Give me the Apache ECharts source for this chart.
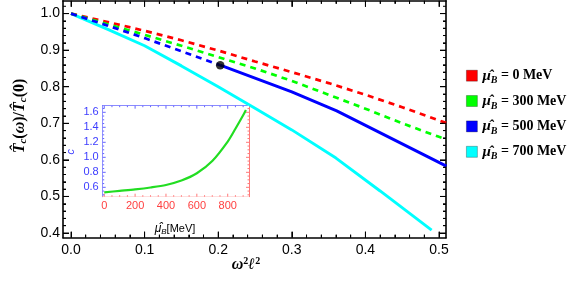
<!DOCTYPE html>
<html><head><meta charset="utf-8">
<script src="https://cdn.jsdelivr.net/npm/echarts@6/dist/echarts.min.js"></script>
<style>html,body{margin:0;padding:0;background:#fff}#c{width:581px;height:286px}</style>
</head><body><div id="c"></div>
<script>
// ---- data ----
const omegaX   = [0, 0.05, 0.1, 0.15, 0.2, 0.25, 0.3, 0.35, 0.4, 0.45, 0.5, 0.51];
const tcMu0    = [1.000, 0.977, 0.953, 0.927, 0.899, 0.869, 0.840, 0.810, 0.778, 0.744, 0.708, 0.701];
const tcMu300  = [1.000, 0.971, 0.942, 0.912, 0.881, 0.850, 0.816, 0.778, 0.740, 0.700, 0.663, 0.656];
const mu500DashX   = [0, 0.05, 0.1, 0.15, 0.2027];
const tcMu500Dash  = [1.000, 0.967, 0.933, 0.897, 0.859];
const mu500SolidX  = [0.2027, 0.3, 0.361, 0.51];
const tcMu500Solid = [0.859, 0.786, 0.734, 0.583];
const mu700X   = [0, 0.05, 0.1, 0.15, 0.2, 0.25, 0.3, 0.36, 0.42, 0.49];
const tcMu700  = [1.000, 0.957, 0.912, 0.857, 0.800, 0.741, 0.682, 0.605, 0.515, 0.408];
const criticalPoint = [0.2027, 0.859];
const insetMu  = [0, 100, 200, 300, 400, 500, 600, 700, 800, 850, 900, 918];
const insetC   = [0.533, 0.553, 0.573, 0.598, 0.631, 0.690, 0.787, 0.950, 1.209, 1.380, 1.560, 1.631];
const xTicks = [0, 0.1, 0.2, 0.3, 0.4, 0.5];
const yTicks = [0.4, 0.5, 0.6, 0.7, 0.8, 0.9, 1.0];
const insetXTicks = [0, 200, 400, 600, 800];
const insetYTicks = [0.6, 0.8, 1.0, 1.2, 1.4, 1.6];
const legendValues = ['0', '300', '500', '700'];
const legendColors = ['#ff0000', '#00ff00', '#0000ff', '#00ffff'];

const zip = (xs, ys) => xs.map((x, i) => [x, ys[i]]);
function minorList(from, to, step, majors) {
  const out = [];
  for (let v = from; v <= to + 1e-9; v += step) {
    const r = Math.round(v * 1000) / 1000;
    if (!majors.some(m => Math.abs(m - r) < 1e-6)) out.push(r);
  }
  return out;
}
const xMinor = minorList(0, 0.5, 0.02, xTicks);
const yMinor = minorList(0.4, 1.02, 0.02, yTicks);
const insetXMinor = minorList(0, 900, 50, insetXTicks);
const insetYMinor = minorList(0.5, 1.65, 0.05, insetYTicks);

const XMIN = -0.0109, XMAX = 0.5095, YMIN = 0.3872, YMAX = 1.035;
const IXMIN = -10, IXMAX = 938, IYMIN = 0.475, IYMAX = 1.688;
const INBLUE = '#6464ff', INRED = '#ff7878';
const G = { left: 63, top: 0.8, width: 383, height: 236.9 };

function axis(grid, pos, min, max, ticks, lineColor, label) {
  return {
    type: 'value', gridIndex: grid, position: pos, min: min, max: max,
    axisLine: { show: true, onZero: false, lineStyle: { color: lineColor, width: grid === 0 ? 1.6 : 1 } },
    axisTick: { show: false },
    axisLabel: label ? Object.assign({ show: true, customValues: ticks }, label) : { show: false },
    splitLine: { show: false }
  };
}
// tick-only axes on helper grids whose extents start at a tick (so interval ticks line up)
function tickAxis(grid, pos, min, max, interval) {
  return {
    type: 'value', gridIndex: grid, position: pos, min: min, max: max, interval: interval,
    axisLine: { show: true, onZero: false, lineStyle: { color: 'rgba(0,0,0,0)' } },
    axisTick: { show: true, inside: true, length: 6, lineStyle: { color: '#000', width: 1 } },
    minorTick: { show: true, splitNumber: 5, length: 3, lineStyle: { color: '#000', width: 1 } },
    axisLabel: { show: false }, splitLine: { show: false }, minorSplitLine: { show: false }
  };
}
const hiddenAxis = grid => ({ type: 'value', gridIndex: grid, show: false, min: 0, max: 1, axisLine: { onZero: false } });
const mainLabel = { color: '#000', fontSize: 14, fontFamily: 'Liberation Sans, Arial', formatter: v => v.toFixed(1) };

const pxPerX = G.width / (XMAX - XMIN), pxPerY = G.height / (YMAX - YMIN);
const xTickGrid = { left: G.left + (xTicks[0] - XMIN) * pxPerX, width: (xTicks[xTicks.length - 1] - xTicks[0]) * pxPerX, top: G.top, height: G.height };
const yTickGrid = { left: G.left, width: G.width, top: G.top + (YMAX - yTicks[yTicks.length - 1]) * pxPerY, height: (yTicks[yTicks.length - 1] - yTicks[0]) * pxPerY };

const xAxes = [
  axis(0, 'bottom', XMIN, XMAX, xTicks, '#000', Object.assign({ margin: 5 }, mainLabel)),
  axis(0, 'top', XMIN, XMAX, xTicks, '#000', null),
  axis(1, 'bottom', IXMIN, IXMAX, insetXTicks, INRED, { margin: 4, color: '#ff4040', fontSize: 11, fontFamily: 'Liberation Sans, Arial', formatter: v => String(v) }),
  axis(1, 'top', IXMIN, IXMAX, insetXTicks, INBLUE, null),
  tickAxis(2, 'bottom', xTicks[0], xTicks[xTicks.length - 1], 0.1),
  tickAxis(2, 'top', xTicks[0], xTicks[xTicks.length - 1], 0.1),
  hiddenAxis(3)
];
const yAxes = [
  axis(0, 'left', YMIN, YMAX, yTicks, '#000', Object.assign({ margin: 3 }, mainLabel)),
  axis(0, 'right', YMIN, YMAX, yTicks, '#000', null),
  axis(1, 'left', IYMIN, IYMAX, insetYTicks, INBLUE, { margin: 4, color: '#3c3cff', fontSize: 11, fontFamily: 'Liberation Sans, Arial', formatter: v => v.toFixed(1) }),
  axis(1, 'right', IYMIN, IYMAX, insetYTicks, INRED, null),
  hiddenAxis(2),
  tickAxis(3, 'left', yTicks[0], yTicks[yTicks.length - 1], 0.1),
  tickAxis(3, 'right', yTicks[0], yTicks[yTicks.length - 1], 0.1)
];

// tick marks placed through the axes' own scales (api.coord), pointing into the frame.
function tickData(xMaj, xMin, yMaj, yMin, lenMaj, lenMin, xmid, ymid) {
  return [].concat(
    xMaj.map(v => [v, ymid, 0, lenMaj]), xMin.map(v => [v, ymid, 0, lenMin]),
    yMaj.map(v => [xmid, v, 1, lenMaj]), yMin.map(v => [xmid, v, 1, lenMin]));
}
function tickRenderer(xmin, xmax, ymin, ymax, colors) { // colors: bottom, top, left, right
  return function (params, api) {
    const side = api.value(2), len = api.value(3);
    let a, b, c1, c2, s1, s2;
    if (side === 0) {
      const v = api.value(0);
      a = api.coord([v, ymin]); b = api.coord([v, ymax]);
      c1 = { x1: a[0], y1: a[1], x2: a[0], y2: a[1] - len };
      c2 = { x1: b[0], y1: b[1], x2: b[0], y2: b[1] + len };
      s1 = colors[0]; s2 = colors[1];
    } else {
      const v = api.value(1);
      a = api.coord([xmin, v]); b = api.coord([xmax, v]);
      c1 = { x1: a[0], y1: a[1], x2: a[0] + len, y2: a[1] };
      c2 = { x1: b[0], y1: b[1], x2: b[0] - len, y2: b[1] };
      s1 = colors[2]; s2 = colors[3];
    }
    return { type: 'group', children: [
      { type: 'line', shape: c1, style: { stroke: s1, lineWidth: 1 } },
      { type: 'line', shape: c2, style: { stroke: s2, lineWidth: 1 } }] };
  };
}

const dash = [6, 5];
function lineSeries(name, data, color, dashed, z) {
  return {
    type: 'line', name: name, data: data, xAxisIndex: 0, yAxisIndex: 0,
    showSymbol: false, symbol: 'none', z: z, animation: false,
    itemStyle: { color: color },
    lineStyle: { color: color, width: dashed ? 2.7 : 2.9, type: dashed ? dash : 'solid', cap: 'butt' }
  };
}

const serif = 'Liberation Serif, DejaVu Serif, serif';
const legendRich = {
  m: { fontFamily: serif, fontStyle: 'italic', fontWeight: 'bold', fontSize: 15, color: '#000' },
  s: { fontFamily: serif, fontStyle: 'italic', fontWeight: 'bold', fontSize: 10, color: '#000', verticalAlign: 'bottom', padding: [10, 0, 0, 0] },
  t: { fontFamily: serif, fontWeight: 'bold', fontSize: 14, color: '#000' }
};
const legendCenters = [74.7, 100, 125.4, 150.8];
const legends = legendValues.map((v, i) => ({
  data: [{ name: 'mu' + v, icon: 'rect', itemStyle: { color: legendColors[i], borderColor: 'rgba(0,0,0,0.35)', borderWidth: 0.8 } }],
  left: 466, top: legendCenters[i] - 6.5, itemWidth: 11, itemHeight: 11, itemGap: 0, padding: 0,
  selectedMode: false,
  formatter: () => '{m|μ̂}{s|B}{t| = ' + v + ' MeV}',
  textStyle: { rich: legendRich }
}));

const option = {
  animation: false,
  backgroundColor: '#fff',
  grid: [
    Object.assign({ containLabel: false }, G),
    { left: 102.7, top: 105.7, width: 146.3, height: 91, show: true, backgroundColor: '#fff', borderWidth: 0, z: 5 },
    xTickGrid,
    yTickGrid
  ],
  xAxis: xAxes,
  yAxis: yAxes,
  legend: legends,
  series: [
    lineSeries('mu0', zip(omegaX, tcMu0), '#ff0000', true, 3),
    lineSeries('mu300', zip(omegaX, tcMu300), '#00ff00', true, 4),
    lineSeries('mu500', zip(mu500DashX, tcMu500Dash), '#0000ff', true, 5),
    lineSeries('mu500', zip(mu500SolidX, tcMu500Solid), '#0000ff', false, 5),
    lineSeries('mu700', zip(mu700X, tcMu700), '#00ffff', false, 2),
    { type: 'scatter', data: [criticalPoint], xAxisIndex: 0, yAxisIndex: 0, symbolSize: 8.5, itemStyle: { color: '#000' }, z: 10, silent: true },
    { type: 'custom', xAxisIndex: 0, yAxisIndex: 0, silent: true, clip: false, z: 11,
      data: tickData(xTicks, xMinor, yTicks, yMinor, 6, 3, (XMIN + XMAX) / 2, (YMIN + YMAX) / 2),
      renderItem: tickRenderer(XMIN, XMAX, YMIN, YMAX, ['#000', '#000', '#000', '#000']) },
    { type: 'line', data: zip(insetMu, insetC), xAxisIndex: 2, yAxisIndex: 2, showSymbol: false, symbol: 'none', smooth: 0.3, z: 10,
      lineStyle: { color: '#22dd22', width: 2.2 }, itemStyle: { color: '#22dd22' } },
    { type: 'custom', xAxisIndex: 2, yAxisIndex: 2, silent: true, clip: false, z: 11,
      data: tickData(insetXTicks, insetXMinor, insetYTicks, insetYMinor, 3, 1.5, (IXMIN + IXMAX) / 2, (IYMIN + IYMAX) / 2),
      renderItem: tickRenderer(IXMIN, IXMAX, IYMIN, IYMAX, [INRED, INBLUE, INBLUE, INRED]) }
  ],
  graphic: [
    { type: 'text', x: 20, y: 116, rotation: Math.PI / 2, z: 20,
      style: { text: '{a|T̂}{s|c}{b|(}{a|ω}{b|)/}{a|T̂}{s|c}{b|(0)}', align: 'center', verticalAlign: 'middle',
        rich: {
          a: { fontFamily: serif, fontStyle: 'italic', fontWeight: 'bold', fontSize: 16, color: '#000' },
          b: { fontFamily: serif, fontWeight: 'bold', fontSize: 16, color: '#000' },
          s: { fontFamily: serif, fontStyle: 'italic', fontWeight: 'bold', fontSize: 11, color: '#000', verticalAlign: 'bottom', padding: [7, 0, 0, 0] }
        } } },
    { type: 'text', x: 246, y: 265, z: 20,
      style: { text: '{a|ω}{p|2}{a|ℓ}{p|2}', align: 'center', verticalAlign: 'middle',
        rich: {
          a: { fontFamily: serif, fontStyle: 'italic', fontWeight: 'bold', fontSize: 16, color: '#000' },
          p: { fontFamily: serif, fontWeight: 'bold', fontSize: 10, color: '#000', verticalAlign: 'top', padding: [0, 0, 7, 0] }
        } } },
    { type: 'text', x: 175, y: 229, z: 20,
      style: { text: '{a|μ̂}{s|B}{b|[MeV]}', align: 'center', verticalAlign: 'middle',
        rich: {
          a: { fontFamily: 'Liberation Sans, Arial', fontStyle: 'italic', fontSize: 12, color: '#ff4040' },
          s: { fontFamily: 'Liberation Sans, Arial', fontStyle: 'italic', fontSize: 8, color: '#ff4040', verticalAlign: 'bottom', padding: [5, 0, 0, 0] },
          b: { fontFamily: 'Liberation Sans, Arial', fontSize: 11, color: '#ff4040' }
        } } },
    { type: 'text', x: 71, y: 151.7, rotation: Math.PI / 2, z: 20,
      style: { text: 'c', align: 'center', verticalAlign: 'middle', fontFamily: 'Liberation Sans, Arial', fontStyle: 'italic', fontSize: 11, fill: '#3c3cff' } }
  ]
};
const chart = echarts.init(document.getElementById('c'), null, { renderer: 'canvas' });
chart.setOption(option);
</script></body></html>
